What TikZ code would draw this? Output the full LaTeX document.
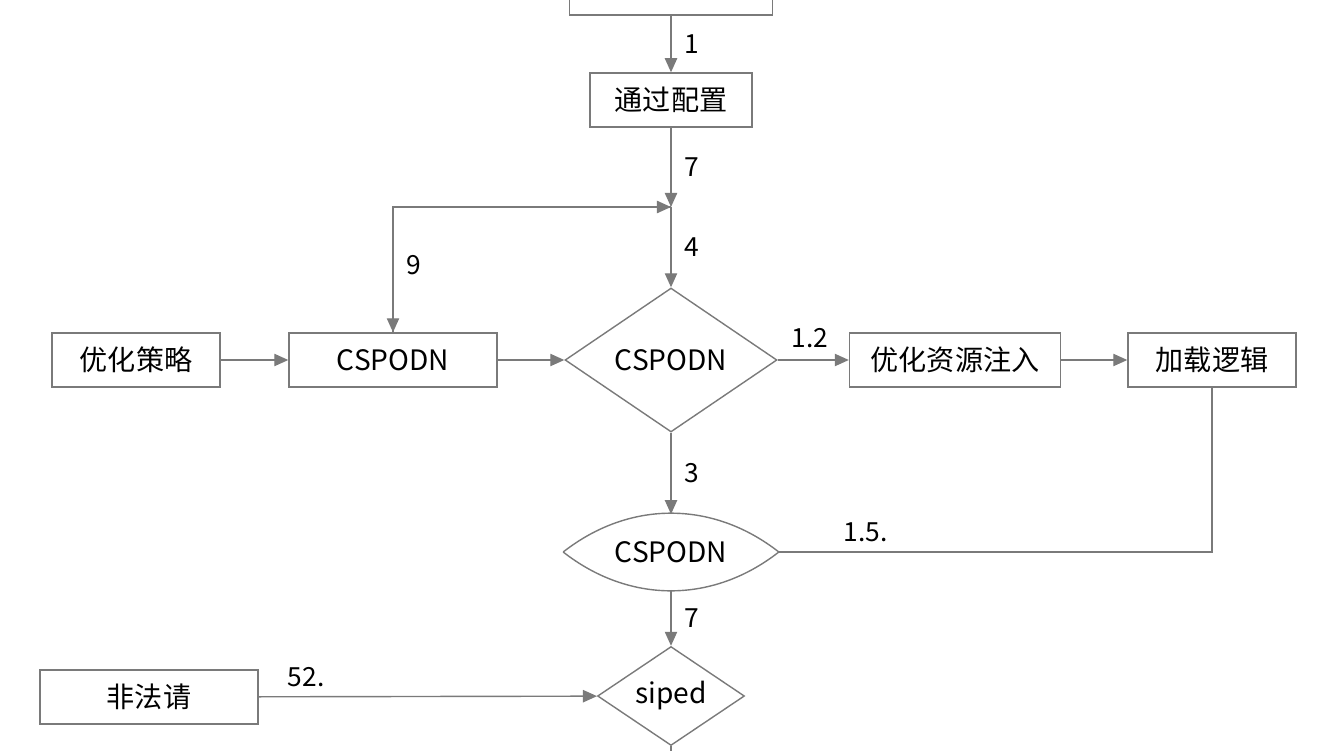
\documentclass[tikz,border=0pt]{standalone}
\usepackage{fontspec}
\setmainfont{Noto Sans CJK SC}
\usetikzlibrary{arrows.meta, positioning, shapes.geometric}
\definecolor{fcgray}{HTML}{7A7A7A}
\begin{document}
\begin{tikzpicture}[
  x=0.02cm, y=-0.02cm,
  every node/.style={font=\fontsize{15}{18}\selectfont, text=black},
  boxnode/.style={rectangle, draw=fcgray, thick, fill=white, minimum height=1.08cm, align=center, font=\fontsize{16}{19}\selectfont},
  decnode/.style={diamond, draw=fcgray, thick, aspect=1.48, inner sep=1pt, font=\fontsize{16}{19}\selectfont},
  flow/.style={-{Triangle[length=8pt,width=7pt]}, fcgray, thick},
  line/.style={fcgray, thick},
]
\useasboundingbox (0,0) rectangle (1344,750);

% main column
\node[boxnode, minimum width=4.06cm] (start) at (671,-12) {\phantom{X}};
\node[boxnode, minimum width=3.24cm] (cfg) at (671,100) {通过配置};
\coordinate (join) at (671,207);
\node[decnode, minimum width=4.24cm, minimum height=2.88cm] (d1) at (671,360) {CSPODN};
\node[minimum width=4.3cm, minimum height=1.5cm, font=\fontsize{16}{19}\selectfont] (lens) at (671,552) {CSPODN};
\draw[line] (lens.west) to[bend left=38] (lens.east) to[bend left=38] (lens.west);
\node[decnode, minimum width=2.94cm, minimum height=1.98cm] (d2) at (671,696) {siped};
\coordinate (bottom) at (671,752);

% side boxes
\node[boxnode, minimum width=3.36cm] (strat) at (136,360) {优化策略};
\node[boxnode, minimum width=4.16cm] (cbox) at (393,360) {CSPODN};
\node[boxnode, minimum width=4.22cm] (inject) at (955,360) {优化资源注入};
\node[boxnode, minimum width=3.36cm] (load) at (1212,360) {加载逻辑};
\node[boxnode, minimum width=4.36cm] (illegal) at (149,697) {非法请};

% connectors
\draw[flow] (start) -- node[right=4pt] {1} (cfg);
\draw[flow] (cfg) -- node[right=4pt] {7} (join);
\draw[flow] (join) -- node[right=4pt] {4} (d1);
\draw[flow] (cbox.north) |- node[pos=0.27, right=4pt] {9} (join);
\draw[flow] (join) -| (cbox.north);
\draw[flow] (strat) -- (cbox);
\draw[flow] (cbox) -- (d1);
\draw[flow] (d1) -- node[above=3pt, pos=0.45] {1.2} (inject);
\draw[flow] (inject) -- (load);
\draw[flow] (d1) -- node[right=4pt] {3} (lens.north);
\draw[line] (load.south) |- node[pos=0.9, above=2pt] {1.5.} (lens.east);
\draw[flow] (lens.south) -- node[right=4pt] {7} (d2);
\draw[flow] (illegal) -- node[pos=0.14, above=2pt] {52.} (d2);
\draw[line] (d2) -- (bottom);
\end{tikzpicture}
\end{document}
